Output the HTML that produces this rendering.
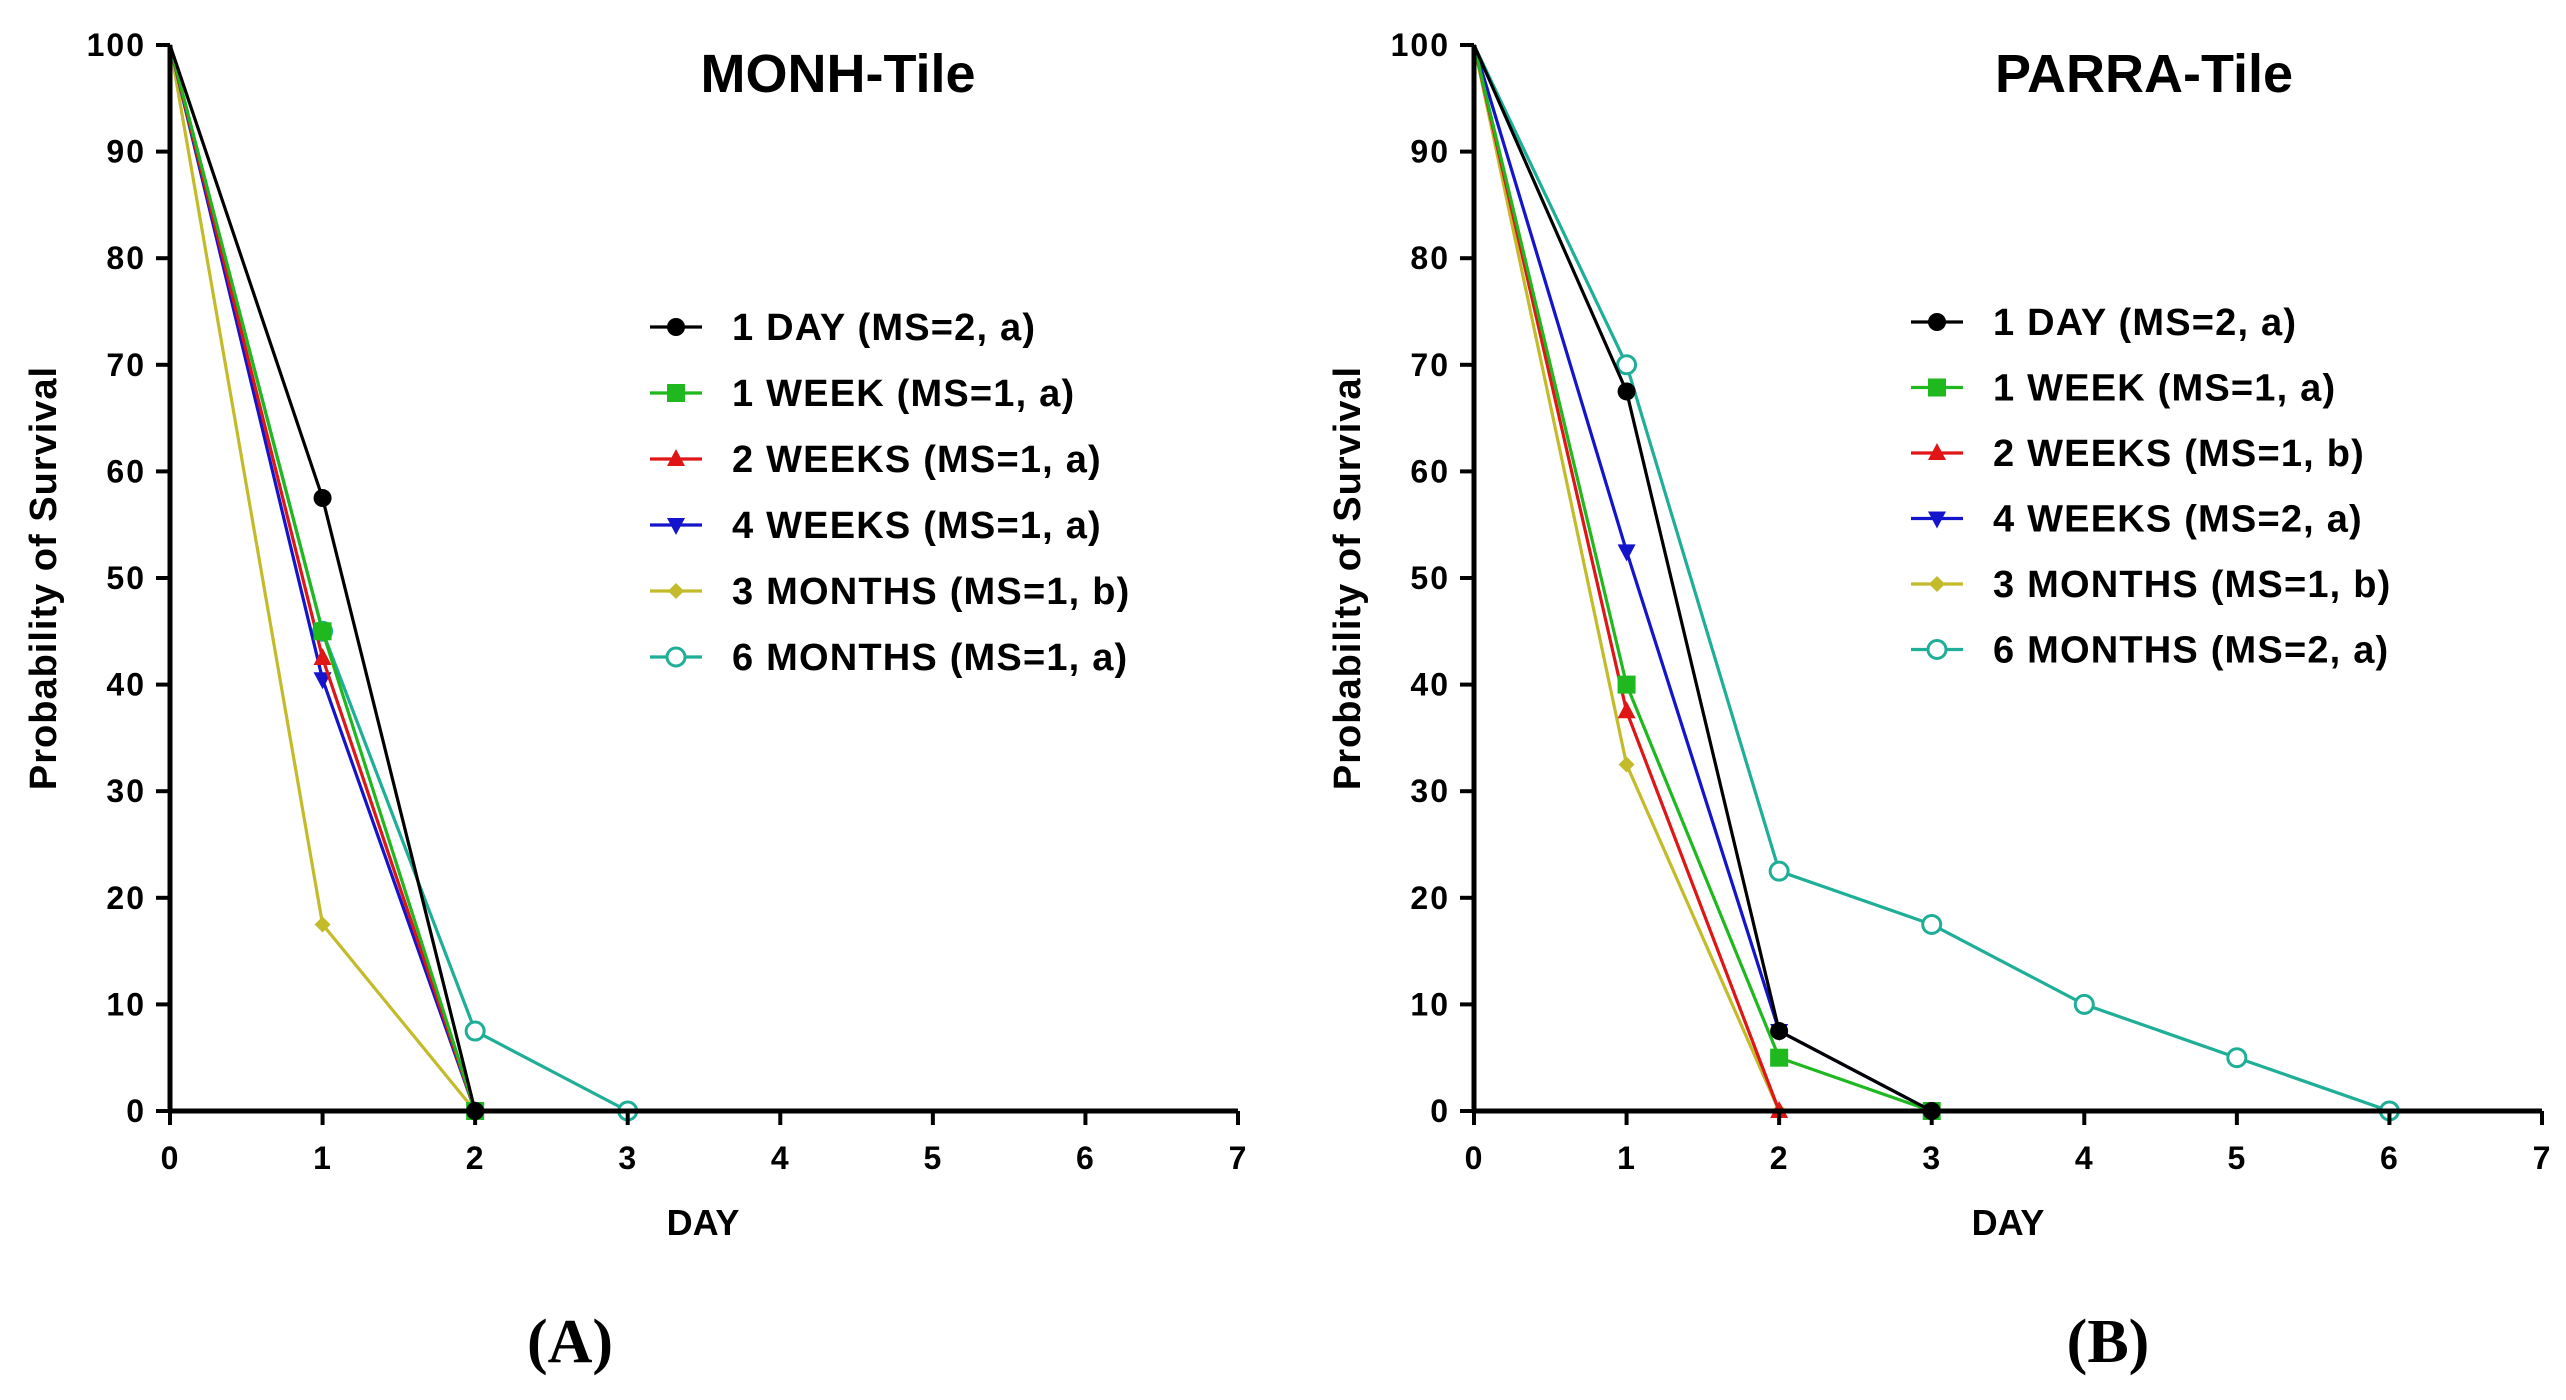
<!DOCTYPE html>
<html><head><meta charset="utf-8"><style>
html,body{margin:0;padding:0;background:#fff;}
svg{display:block;font-family:"Liberation Sans",Arial,sans-serif;}
</style></head><body>
<svg id="fig" width="2566" height="1400" viewBox="0 0 2566 1400"></svg>
<script>
const xTicks = [0,1,2,3,4,5,6,7];
const yTicks = [0,10,20,30,40,50,60,70,80,90,100];
const seriesNames = ["1 DAY","1 WEEK","2 WEEKS","4 WEEKS","3 MONTHS","6 MONTHS"];
const seriesColors = ["#000000","#1fb81f","#e01515","#1414cc","#c4bb2a","#1fae98"];
const seriesMarkers = ["circle","square","triangle","tridown","diamond","open"];
const monhLabels = ["(MS=2, a)","(MS=1, a)","(MS=1, a)","(MS=1, a)","(MS=1, b)","(MS=1, a)"];
const parraLabels = ["(MS=2, a)","(MS=1, a)","(MS=1, b)","(MS=2, a)","(MS=1, b)","(MS=2, a)"];
const monh1Day = [100,57.5,0];
const monh1Week = [100,45,0];
const monh2Weeks = [100,42.5,0];
const monh4Weeks = [100,40.5,0];
const monh3Months = [100,17.5,0];
const monh6Months = [100,45,7.5,0];
const parra1Day = [100,67.5,7.5,0];
const parra1Week = [100,40,5,0];
const parra2Weeks = [100,37.5,0];
const parra4Weeks = [100,52.5,7.5,0];
const parra3Months = [100,32.5,0];
const parra6Months = [100,70,22.5,17.5,10,5,0];

const NS="http://www.w3.org/2000/svg";
const svg=document.getElementById('fig');
function mk(tag,attrs,parent){const e=document.createElementNS(NS,tag);for(const k in attrs)e.setAttribute(k,attrs[k]);(parent||svg).appendChild(e);return e;}

function marker(g,type,x,y,c){
  let e;
  if(type==="circle") e=mk('circle',{cx:x,cy:y,r:9,fill:c},g);
  else if(type==="square") e=mk('rect',{x:x-9,y:y-9,width:18,height:18,fill:c},g);
  else if(type==="triangle") e=mk('polygon',{points:`${x},${y-10} ${x-9},${y+7} ${x+9},${y+7}`,fill:c},g);
  else if(type==="tridown") e=mk('polygon',{points:`${x},${y+10} ${x-9},${y-7} ${x+9},${y-7}`,fill:c},g);
  else if(type==="diamond") e=mk('polygon',{points:`${x},${y-8} ${x+8},${y} ${x},${y+8} ${x-8},${y}`,fill:c},g);
  else e=mk('circle',{cx:x,cy:y,r:9,fill:"#fff",stroke:c,'stroke-width':3},g);
  
  
}

function panel(cfg){
  const g=mk('g',{});
  
  
  const X=v=>cfg.x0+(cfg.x1-cfg.x0)*v/7;
  const Y=v=>cfg.y0+(cfg.y100-cfg.y0)*v/100;
  for(let i=cfg.data.length-1;i>=0;i--){
    const d=cfg.data[i];
    const sg=mk('g',{},g);
    
    
    const pts=d.map((v,j)=>X(j)+','+Y(v)).join(' ');
    const pl=mk('polyline',{points:pts,fill:'none',stroke:seriesColors[i],'stroke-width':3.2},sg);
    
    
    d.forEach((v,j)=>{ if(j>0) marker(sg,seriesMarkers[i],X(j),Y(v),seriesColors[i]); });
  }
  const ax=mk('line',{x1:cfg.x0,y1:Y(0),x2:X(7),y2:Y(0),stroke:'#000','stroke-width':5},g);
  
  const ay=mk('line',{x1:cfg.x0,y1:Y(0)+2,x2:cfg.x0,y2:Y(100),stroke:'#000','stroke-width':5},g);
  
  xTicks.forEach(t=>{
    mk('line',{x1:X(t),y1:Y(0),x2:X(t),y2:Y(0)+14,stroke:'#000','stroke-width':4},g);
    const tx=mk('text',{x:X(t),y:Y(0)+58,'text-anchor':'middle','font-size':32,'font-weight':'bold','letter-spacing':1},g);
    tx.textContent=t;
    
  });
  yTicks.forEach(t=>{
    mk('line',{x1:cfg.x0-14,y1:Y(t),x2:cfg.x0,y2:Y(t),stroke:'#000','stroke-width':4},g);
    const tx=mk('text',{x:cfg.x0-24,y:Y(t)+11,'text-anchor':'end','font-size':32,'font-weight':'bold','letter-spacing':2},g);
    tx.textContent=t;
    
  });
  const tt=mk('text',{x:cfg.titleX,y:92,'text-anchor':'middle','font-size':54,'font-weight':'bold'},g);
  tt.textContent=cfg.title;
  const yt=mk('text',{x:0,y:0,'text-anchor':'middle','font-size':38,'font-weight':'bold','letter-spacing':1,transform:`translate(${cfg.x0-114},${(Y(0)+Y(100))/2}) rotate(-90)`},g);
  yt.textContent='Probability of Survival';
  const xt=mk('text',{x:cfg.dayX,y:1235,'text-anchor':'middle','font-size':36,'font-weight':'bold'},g);
  xt.textContent='DAY';
  const pl=mk('text',{x:cfg.panelX,y:1362,'text-anchor':'middle','font-size':62,'font-weight':'bold','font-family':'"Liberation Serif",serif'},g);
  pl.textContent=cfg.panelLabel;
  const lg=mk('g',{},g);
  
  seriesNames.forEach((n,i)=>{
    const y=cfg.legY+i*cfg.legStep;
    const eg=mk('g',{},lg);
    
    mk('line',{x1:cfg.legX,y1:y,x2:cfg.legX+52,y2:y,stroke:seriesColors[i],'stroke-width':3.2},eg);
    marker(eg,seriesMarkers[i],cfg.legX+26,y,seriesColors[i]);
    const t=mk('text',{x:cfg.legX+82,y:y+13,'font-size':38,'font-weight':'bold','letter-spacing':1.2},eg);
    t.textContent=n+' '+cfg.labels[i];
  });
}

panel({name:'monh-tile-chart',x0:170,x1:1238,y0:1111,y100:45,title:'MONH-Tile',titleX:838,dayX:703,panelX:570,panelLabel:'(A)',
  legX:650,legY:327,legStep:66,labels:monhLabels,data:[monh1Day,monh1Week,monh2Weeks,monh4Weeks,monh3Months,monh6Months]});
panel({name:'parra-tile-chart',x0:1474,x1:2542,y0:1111,y100:45,title:'PARRA-Tile',titleX:2144,dayX:2008,panelX:2108,panelLabel:'(B)',
  legX:1911,legY:322,legStep:65.5,labels:parraLabels,data:[parra1Day,parra1Week,parra2Weeks,parra4Weeks,parra3Months,parra6Months]});
</script>
</body></html>
